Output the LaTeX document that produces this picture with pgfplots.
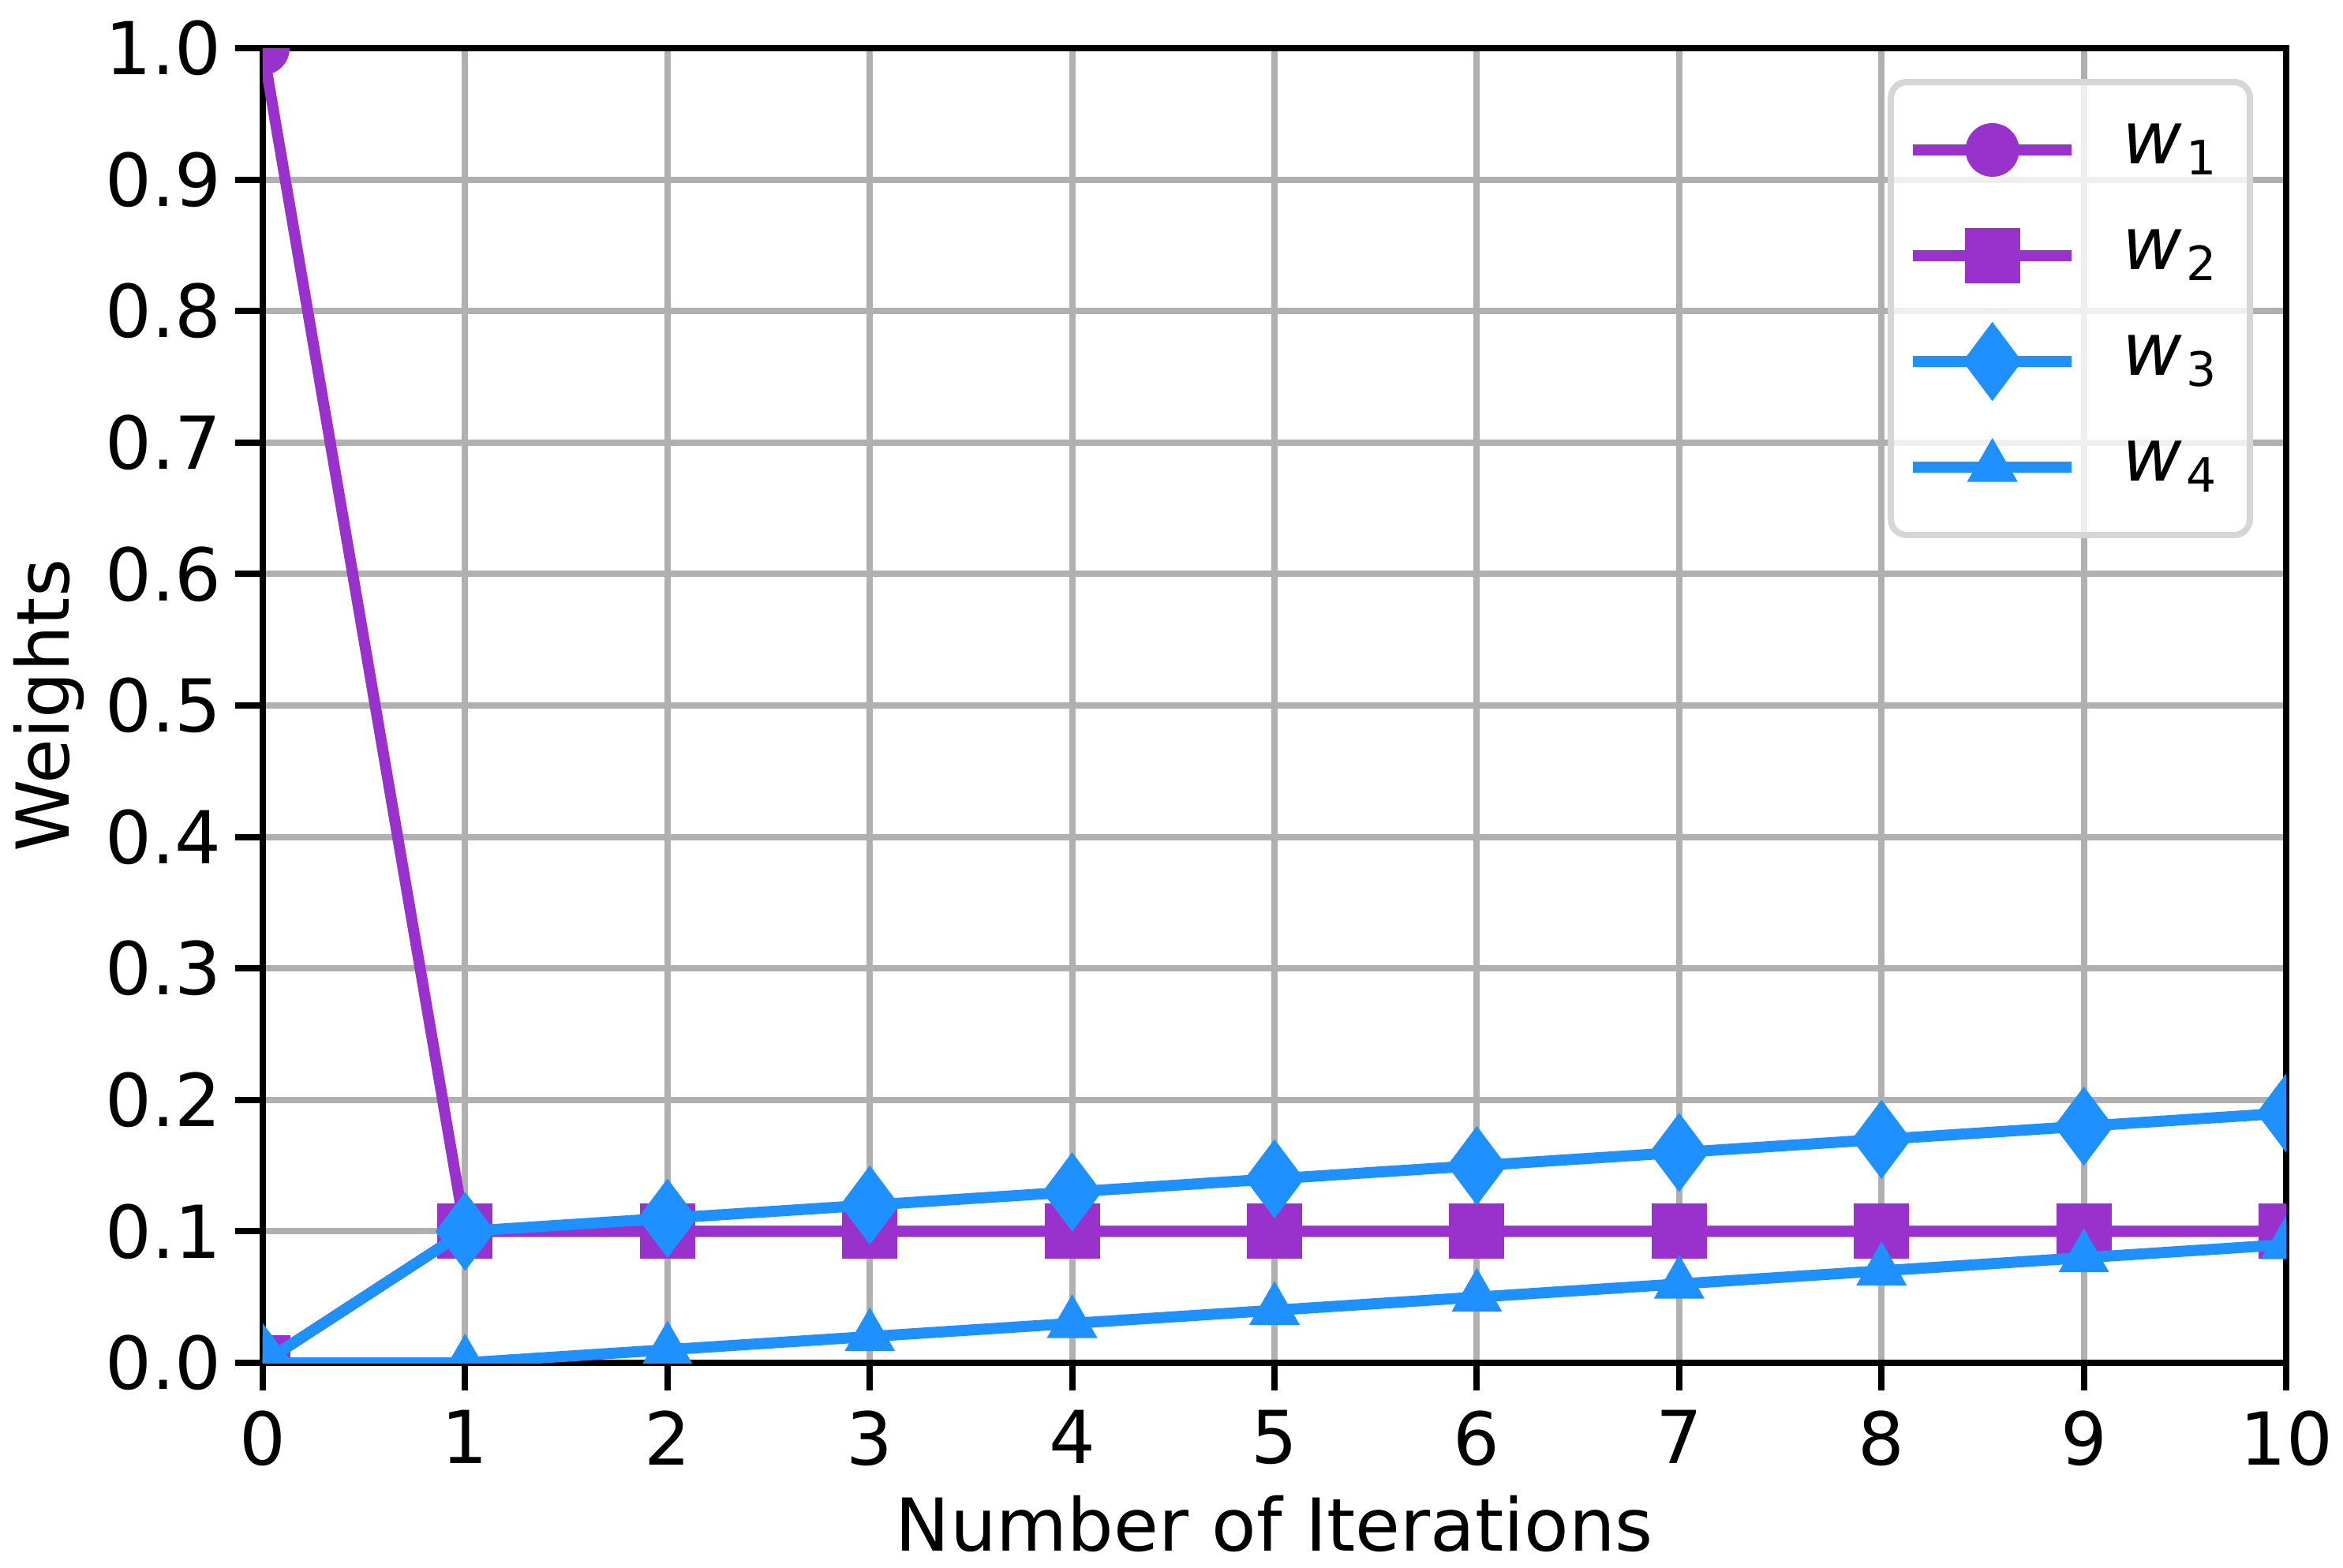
\documentclass[border=0pt]{standalone}
\usepackage{fontspec}
\setmainfont{DejaVu Sans}
\usepackage{pgfplots}
\pgfplotsset{compat=1.18}

\definecolor{wpurple}{HTML}{9932CC}
\definecolor{wblue}{HTML}{1E90FF}
\definecolor{gridgray}{HTML}{B0B0B0}
\definecolor{legframe}{HTML}{D6D6D6}

\newcommand{\wsub}[1]{{\itshape w}\kern0.6pt\raisebox{-1.4pt}{\fontsize{6}{6}\selectfont #1}\kern1.4pt}

\begin{document}
\begin{tikzpicture}[font=\fontsize{9.25}{11}\selectfont]
\begin{axis}[
    scale only axis,
    width=256.4pt, height=166.6pt,
    at={(0,0)}, anchor=south west,
    xmin=0, xmax=10, ymin=0, ymax=1,
    xtick={0,1,...,10},
    ytick={0,0.1,0.2,0.3,0.4,0.5,0.6,0.7,0.8,0.9,1.0},
    yticklabel style={/pgf/number format/.cd, fixed, fixed zerofill, precision=1, /tikz/.cd, xshift=1.8pt},
    xticklabel style={yshift=1.0pt},
    /pgf/number format/assume math mode=true,
    tick pos=left, tick align=outside,
    major tick length=3.5pt,
    every tick/.style={black, line width=0.8pt},
    axis line style={line width=0.8pt},
    grid=major,
    grid style={gridgray, line width=0.8pt},
    clip marker paths=true,
    xlabel={Number of Iterations},
    ylabel={Weights},
    xlabel style={at={(axis description cs:0.5,-0.1429)}, anchor=base, inner sep=0pt},
    ylabel style={at={(axis description cs:-0.0956,0.5)}, anchor=base, inner sep=0pt},
    legend cell align=left,
    legend image code/.code={
        \draw[mark repeat=2, mark phase=2, #1, overlay] plot coordinates {(0pt,0pt) (10.05pt,0pt) (20.1pt,0pt)};
        \pgfpathrectangle{\pgfpoint{0pt}{-4pt}}{\pgfpoint{20.1pt}{8pt}}
        \pgfusepath{discard}
    },
    legend image post style={opacity=1},
    legend style={
        at={(axis description cs:1,1)}, xshift=-4.2pt, yshift=-3.9pt, anchor=north east,
        draw=legframe, line width=0.8pt, rounded corners=2pt,
        fill=white, fill opacity=0.8, text opacity=1,
        inner xsep=2.8pt, inner ysep=4.6pt, row sep=5.4pt,
        nodes={inner sep=0pt, text opacity=1},
        /tikz/every odd column/.append style={column sep=6.4pt},
    },
]

% w1
\addplot[wpurple, line width=1.4pt, mark=*, mark size=3.15pt,
    mark options={solid, line width=0.5pt, fill=wpurple}] coordinates {
    (0, 1.0) (1, 0.1) (2, 0.1) (3, 0.1) (4, 0.1) (5, 0.1)
    (6, 0.1) (7, 0.1) (8, 0.1) (9, 0.1) (10, 0.1)
};
\addlegendentry{\wsub{1}}

% w2
\addplot[wpurple, line width=1.4pt, mark=square*, mark size=3.25pt,
    mark options={solid, line width=0.5pt, fill=wpurple}] coordinates {
    (0, 0.0) (1, 0.1) (2, 0.1) (3, 0.1) (4, 0.1) (5, 0.1)
    (6, 0.1) (7, 0.1) (8, 0.1) (9, 0.1) (10, 0.1)
};
\addlegendentry{\wsub{2}}

% w3
\addplot[wblue, line width=1.4pt, mark=diamond*, mark size=4.6pt,
    mark options={solid, line width=0.5pt, fill=wblue}] coordinates {
    (0, 0.0) (1, 0.10) (2, 0.11) (3, 0.12) (4, 0.13) (5, 0.14)
    (6, 0.15) (7, 0.16) (8, 0.17) (9, 0.18) (10, 0.19)
};
\addlegendentry{\wsub{3}}

% w4
\addplot[wblue, line width=1.4pt, mark=triangle*, mark size=3.2pt,
    mark options={solid, line width=0.5pt, fill=wblue}] coordinates {
    (0, 0.0) (1, 0.0) (2, 0.01) (3, 0.02) (4, 0.03) (5, 0.04)
    (6, 0.05) (7, 0.06) (8, 0.07) (9, 0.08) (10, 0.09)
};
\addlegendentry{\wsub{4}}

\end{axis}
\pgfresetboundingbox
\path[use as bounding box] (-33.3pt,-25.9pt) rectangle (263.6pt,172.7pt);
\end{tikzpicture}
\end{document}
